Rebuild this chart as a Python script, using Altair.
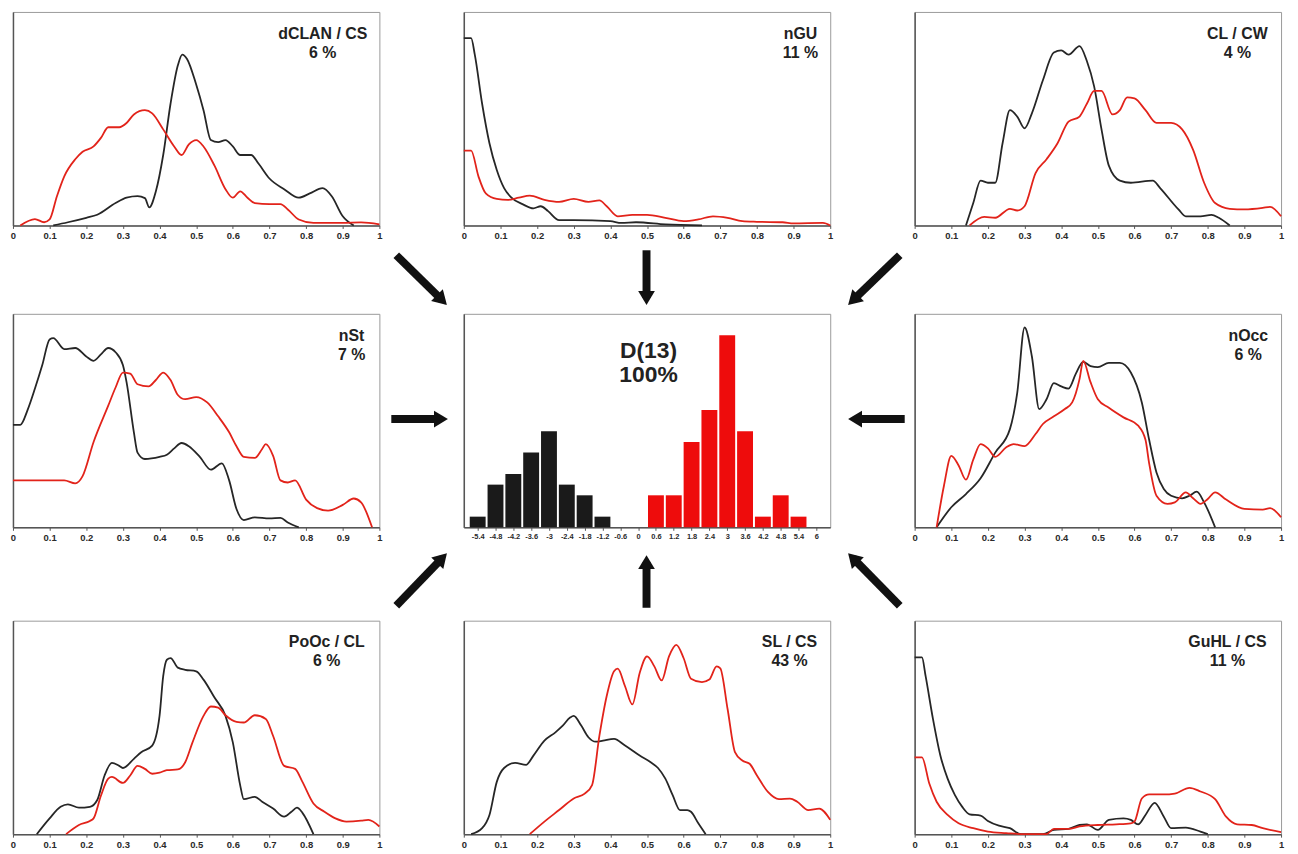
import math
import altair as alt
import pandas as pd

# ---------------- data ----------------
dclan_black = [(0.11,0),(0.15,0.015),(0.2,0.036),(0.23,0.05),(0.28,0.105),(0.31,0.13),(0.34,0.137),(0.36,0.128),
               (0.372,0.085),(0.39,0.16),(0.41,0.33),(0.43,0.57),(0.45,0.75),(0.462,0.80),(0.475,0.78),(0.5,0.66),
               (0.52,0.54),(0.54,0.40),(0.56,0.39),(0.58,0.40),(0.6,0.37),(0.62,0.33),(0.65,0.33),(0.67,0.29),
               (0.7,0.22),(0.74,0.17),(0.78,0.13),(0.81,0.15),(0.845,0.175),(0.87,0.137),(0.9,0.043),(0.93,0)]
dclan_red = [(0.02,0),(0.06,0.03),(0.085,0.015),(0.1,0.028),(0.12,0.137),(0.14,0.23),(0.17,0.31),(0.19,0.345),
             (0.22,0.37),(0.24,0.41),(0.26,0.46),(0.29,0.46),(0.31,0.48),(0.33,0.52),(0.36,0.54),(0.38,0.525),
             (0.41,0.45),(0.44,0.37),(0.46,0.33),(0.48,0.38),(0.5,0.40),(0.52,0.37),(0.55,0.28),(0.58,0.17),
             (0.6,0.13),(0.62,0.16),(0.64,0.13),(0.66,0.105),(0.7,0.10),(0.73,0.10),(0.75,0.075),(0.78,0.028),
             (0.82,0.012),(0.9,0.012),(0.95,0.014),(1.0,0.005)]

ngu_black = [(0,0.877),(0.02,0.877),(0.03,0.80),(0.05,0.57),(0.07,0.385),(0.09,0.26),(0.11,0.175),(0.13,0.13),
             (0.16,0.10),(0.19,0.08),(0.21,0.09),(0.23,0.067),(0.26,0.025),(0.3,0.025),(0.4,0.02),(0.43,0.012),
             (0.47,0.015),(0.55,0.005),(0.65,0)]
ngu_red = [(0,0.35),(0.02,0.35),(0.04,0.23),(0.06,0.15),(0.09,0.124),(0.12,0.12),(0.15,0.13),(0.18,0.14),
           (0.22,0.12),(0.26,0.11),(0.3,0.124),(0.34,0.11),(0.37,0.117),(0.39,0.09),(0.42,0.043),(0.46,0.05),
           (0.5,0.05),(0.55,0.036),(0.6,0.02),(0.64,0.028),(0.68,0.043),(0.72,0.036),(0.76,0.02),(0.8,0.017),
           (0.87,0.015),(0.9,0.01),(0.98,0.012),(1.0,0)]

clcw_black = [(0.14,0),(0.16,0.105),(0.18,0.21),(0.2,0.2),(0.22,0.2),(0.24,0.385),(0.26,0.54),(0.28,0.51),
              (0.3,0.455),(0.32,0.525),(0.35,0.68),(0.38,0.81),(0.4,0.82),(0.42,0.80),(0.45,0.84),(0.47,0.77),
              (0.49,0.65),(0.51,0.45),(0.53,0.28),(0.56,0.21),(0.59,0.2),(0.65,0.21),(0.67,0.175),(0.72,0.075),
              (0.74,0.043),(0.78,0.043),(0.81,0.05),(0.83,0.036),(0.86,0)]
clcw_red = [(0.15,0),(0.19,0.04),(0.22,0.036),(0.26,0.078),(0.28,0.07),(0.3,0.09),(0.33,0.245),(0.36,0.31),
            (0.39,0.385),(0.42,0.486),(0.45,0.51),(0.47,0.57),(0.49,0.63),(0.51,0.63),(0.54,0.52),(0.56,0.54),
            (0.58,0.60),(0.6,0.595),(0.63,0.54),(0.66,0.48),(0.7,0.48),(0.73,0.45),(0.76,0.354),(0.79,0.2),
            (0.82,0.105),(0.86,0.078),(0.9,0.075),(0.95,0.082),(0.97,0.087),(1.0,0.043)]

nst_black = [(0,0.48),(0.02,0.48),(0.04,0.55),(0.06,0.65),(0.08,0.76),(0.1,0.88),(0.11,0.886),(0.14,0.835),
             (0.17,0.84),(0.2,0.80),(0.22,0.78),(0.24,0.81),(0.26,0.84),(0.28,0.82),(0.3,0.76),(0.31,0.68),
             (0.33,0.445),(0.34,0.35),(0.36,0.32),(0.4,0.33),(0.42,0.34),(0.44,0.37),(0.46,0.395),(0.48,0.38),
             (0.51,0.33),(0.54,0.27),(0.57,0.30),(0.59,0.22),(0.61,0.086),(0.63,0.034),(0.66,0.047),(0.7,0.042),
             (0.73,0.044),(0.75,0.023),(0.78,0)]
nst_red = [(0,0.22),(0.14,0.22),(0.17,0.206),(0.19,0.24),(0.22,0.40),(0.26,0.57),(0.28,0.655),(0.3,0.725),
           (0.32,0.72),(0.34,0.67),(0.37,0.66),(0.39,0.69),(0.41,0.725),(0.43,0.69),(0.45,0.62),(0.47,0.60),
           (0.5,0.61),(0.53,0.585),(0.56,0.52),(0.59,0.445),(0.61,0.38),(0.63,0.33),(0.66,0.325),(0.68,0.367),
           (0.69,0.39),(0.71,0.335),(0.73,0.22),(0.75,0.21),(0.77,0.22),(0.8,0.13),(0.83,0.09),(0.86,0.078),
           (0.9,0.105),(0.93,0.135),(0.95,0.117),(0.98,0)]

nocc_black = [(0.06,0),(0.1,0.094),(0.14,0.156),(0.18,0.23),(0.22,0.35),(0.26,0.46),(0.28,0.63),(0.3,0.936),
              (0.32,0.80),(0.34,0.554),(0.36,0.60),(0.38,0.675),(0.4,0.66),(0.42,0.65),(0.44,0.72),(0.46,0.775),
              (0.48,0.755),(0.5,0.75),(0.53,0.77),(0.56,0.77),(0.59,0.725),(0.62,0.585),(0.64,0.41),(0.66,0.257),
              (0.68,0.18),(0.7,0.148),(0.73,0.136),(0.75,0.148),(0.77,0.167),(0.79,0.117),(0.82,0)]
nocc_red = [(0.06,0),(0.08,0.195),(0.1,0.335),(0.12,0.29),(0.14,0.223),(0.16,0.317),(0.18,0.39),(0.2,0.37),
            (0.22,0.33),(0.25,0.375),(0.27,0.39),(0.3,0.38),(0.33,0.437),(0.35,0.484),(0.38,0.52),(0.41,0.554),
            (0.43,0.585),(0.45,0.694),(0.46,0.78),(0.48,0.68),(0.5,0.60),(0.53,0.56),(0.57,0.515),(0.61,0.476),
            (0.63,0.41),(0.64,0.30),(0.66,0.148),(0.69,0.11),(0.71,0.117),(0.74,0.164),(0.76,0.136),(0.78,0.11),
            (0.8,0.133),(0.82,0.164),(0.85,0.13),(0.9,0.086),(0.95,0.083),(0.97,0.09),(1.0,0.047)]

pooc_black = [(0.065,0),(0.1,0.074),(0.13,0.128),(0.15,0.14),(0.18,0.124),(0.21,0.128),(0.23,0.16),(0.25,0.275),
              (0.27,0.334),(0.29,0.32),(0.3,0.31),(0.33,0.353),(0.35,0.384),(0.38,0.415),(0.4,0.554),(0.41,0.74),
              (0.42,0.817),(0.43,0.825),(0.45,0.78),(0.47,0.77),(0.5,0.763),(0.52,0.724),(0.55,0.64),(0.58,0.554),
              (0.6,0.43),(0.62,0.23),(0.63,0.164),(0.66,0.175),(0.68,0.152),(0.71,0.12),(0.74,0.082),(0.76,0.105),
              (0.775,0.124),(0.79,0.1),(0.82,0)]
pooc_red = [(0.145,0),(0.18,0.043),(0.21,0.062),(0.22,0.074),(0.24,0.18),(0.26,0.26),(0.27,0.268),(0.3,0.24),
            (0.32,0.275),(0.34,0.32),(0.36,0.306),(0.38,0.283),(0.4,0.288),(0.42,0.3),(0.45,0.303),(0.47,0.337),
            (0.49,0.43),(0.52,0.554),(0.54,0.598),(0.56,0.593),(0.58,0.557),(0.61,0.526),(0.63,0.523),(0.66,0.557),
            (0.69,0.54),(0.71,0.46),(0.74,0.32),(0.77,0.306),(0.79,0.245),(0.82,0.144),(0.85,0.105),(0.88,0.074),
            (0.91,0.059),(0.95,0.063),(0.97,0.067),(1.0,0.036)]

slcs_black = [(0.02,0),(0.05,0.028),(0.07,0.09),(0.09,0.245),(0.11,0.31),(0.14,0.334),(0.17,0.325),(0.19,0.368),
              (0.22,0.438),(0.25,0.477),(0.27,0.508),(0.29,0.546),(0.3,0.554),(0.32,0.51),(0.34,0.454),(0.36,0.433),
              (0.38,0.438),(0.41,0.446),(0.44,0.415),(0.48,0.368),(0.51,0.337),(0.53,0.31),(0.55,0.26),(0.57,0.183),
              (0.59,0.113),(0.61,0.113),(0.62,0.105),(0.64,0.051),(0.66,0)]
slcs_red = [(0.18,0),(0.22,0.059),(0.26,0.113),(0.3,0.167),(0.33,0.19),(0.35,0.23),(0.37,0.46),(0.39,0.647),
            (0.41,0.763),(0.42,0.775),(0.44,0.693),(0.46,0.608),(0.48,0.755),(0.5,0.833),(0.52,0.786),(0.54,0.72),
            (0.56,0.833),(0.58,0.887),(0.6,0.824),(0.62,0.728),(0.65,0.712),(0.67,0.724),(0.69,0.786),(0.7,0.777),
            (0.72,0.585),(0.74,0.384),(0.76,0.345),(0.78,0.33),(0.8,0.275),(0.83,0.198),(0.86,0.164),(0.89,0.167),
            (0.91,0.152),(0.94,0.113),(0.97,0.12),(1.0,0.067)]

guhl_black = [(0,0.828),(0.02,0.828),(0.03,0.74),(0.05,0.54),(0.07,0.37),(0.09,0.26),(0.11,0.183),(0.13,0.128),
              (0.15,0.093),(0.18,0.087),(0.2,0.062),(0.23,0.04),(0.26,0.028),(0.29,0),(0.35,0),(0.38,0.02),
              (0.42,0.025),(0.45,0.043),(0.47,0.046),(0.5,0.02),(0.53,0.067),(0.57,0.074),(0.59,0.067),(0.61,0.046),
              (0.63,0.09),(0.655,0.147),(0.68,0.082),(0.7,0.028),(0.74,0.031),(0.78,0.012),(0.8,0)]
guhl_red = [(0,0.36),(0.02,0.36),(0.04,0.237),(0.06,0.152),(0.09,0.09),(0.12,0.051),(0.16,0.028),(0.2,0.012),
            (0.25,0.005),(0.3,0),(0.36,0),(0.38,0.025),(0.42,0.025),(0.45,0.036),(0.5,0.043),(0.55,0.046),
            (0.59,0.051),(0.6,0.059),(0.62,0.167),(0.64,0.186),(0.68,0.186),(0.71,0.19),(0.75,0.217),(0.78,0.2),
            (0.82,0.164),(0.85,0.082),(0.88,0.046),(0.92,0.043),(0.95,0.028),(1.0,0.01)]

hist_black_bins = [-5.4, -4.8, -4.2, -3.6, -3.0, -2.4, -1.8, -1.2]
hist_black_counts = [1, 4, 5, 7, 9, 4, 3, 1]
hist_red_bins = [0.6, 1.2, 1.8, 2.4, 3.0, 3.6, 4.2, 4.8, 5.4]
hist_red_counts = [3, 3, 8, 11, 18, 9, 1, 3, 1]
hist_ticks = [-5.4, -4.8, -4.2, -3.6, -3, -2.4, -1.8, -1.2, -0.6, 0, 0.6, 1.2, 1.8, 2.4, 3, 3.6, 4.2, 4.8, 5.4, 6]
curve_ticks = [0, 0.1, 0.2, 0.3, 0.4, 0.5, 0.6, 0.7, 0.8, 0.9, 1]

# ---------------- layout / style ----------------
PW, PH = 369, 215
GAP = 85
S1H, S2H = 89, 94
BLACK = "#262626"
RED = "#e2231a"
FONT = "Liberation Sans"


def title_layer(lines, cx, top, size, lh):
    return alt.Chart(pd.DataFrame({"t": [0]})).mark_text(
        text=lines, align="center", baseline="top", font=FONT, fontSize=size,
        fontWeight="bold", color="#222", lineHeight=lh
    ).encode(x=alt.value(cx), y=alt.value(top))


def curve_panel(black, red, lines, cx):
    xenc = alt.X("x:Q", scale=alt.Scale(domain=[0, 1], nice=False, zero=False),
                 axis=alt.Axis(values=curve_ticks, format=".1~f", title=None))
    yenc = alt.Y("y:Q", scale=alt.Scale(domain=[0, 1], nice=False),
                 axis=alt.Axis(title=None, labels=False, ticks=False))
    lb = alt.Chart(pd.DataFrame(black, columns=["x", "y"])).mark_line(
        color=BLACK, strokeWidth=1.8, interpolate="monotone").encode(x=xenc, y=yenc)
    lr = alt.Chart(pd.DataFrame(red, columns=["x", "y"])).mark_line(
        color=RED, strokeWidth=1.8, interpolate="monotone").encode(x=xenc, y=yenc)
    return alt.layer(lb, lr, title_layer(lines, cx, 14, 16, 19)).properties(width=PW, height=PH)


def hist_panel():
    xs = alt.Scale(domain=[-5.7, 6.3], nice=False, zero=False)
    ys = alt.Scale(domain=[0, 20], nice=False)
    xax = alt.Axis(values=hist_ticks, labelExpr="'' + datum.value", title=None,
                   labelFontSize=7.5, labelOverlap=False)
    yax = alt.Axis(title=None, labels=False, ticks=False)
    hb = alt.Chart(pd.DataFrame({"b": hist_black_bins, "n": hist_black_counts})).mark_bar(
        color="#1a1a1a", size=16).encode(x=alt.X("b:Q", scale=xs, axis=xax), y=alt.Y("n:Q", scale=ys, axis=yax))
    hr = alt.Chart(pd.DataFrame({"b": hist_red_bins, "n": hist_red_counts})).mark_bar(
        color="#ee0c0c", size=16).encode(x=alt.X("b:Q", scale=xs, axis=xax), y=alt.Y("n:Q", scale=ys, axis=yax))
    return alt.layer(hb, hr, title_layer(["D(13)", "100%"], 186, 26, 23, 25)).properties(width=PW, height=PH)


HEAD_HALF = 7
HEAD_PATH = "M0,-1L1.2,1L-1.2,1Z"


def arrow_cell(arrows, w, h):
    """A blank cell of the layout grid, optionally carrying arrows (tail x, tail y, tip x, tip y)."""
    rows = []
    for (x0, y0, x1, y1) in arrows:
        dx, dy = x1 - x0, y1 - y0
        L = math.hypot(dx, dy)
        ux, uy = dx / L, dy / L
        cx, cy = x1 - HEAD_HALF * ux, y1 - HEAD_HALF * uy
        ang = (math.degrees(math.atan2(dy, dx)) + 90) % 360
        rows.append({"x": x0, "y": y0, "x2": cx, "y2": cy, "hx": cx, "hy": cy, "a": ang, "o": 1})
    if not rows:
        # invisible placeholder in the middle of the cell
        rows.append({"x": w / 2, "y": h / 2, "x2": w / 2, "y2": h / 2, "hx": w / 2, "hy": h / 2, "a": 0, "o": 0})
    df = pd.DataFrame(rows)
    xs = alt.Scale(domain=[0, w], nice=False, zero=False)
    ys = alt.Scale(domain=[0, h], nice=False, zero=False, reverse=True)
    shaft = alt.Chart(df).mark_rule(color="#111", strokeWidth=8, strokeCap="butt").encode(
        x=alt.X("x:Q", scale=xs, axis=None), y=alt.Y("y:Q", scale=ys, axis=None), x2="x2:Q", y2="y2:Q",
        opacity=alt.Opacity("o:Q", scale=None))
    head = alt.Chart(df).mark_point(shape=HEAD_PATH, filled=True, size=196,
                                    color="#111", strokeWidth=0).encode(
        x=alt.X("hx:Q", scale=xs, axis=None), y=alt.Y("hy:Q", scale=ys, axis=None),
        angle=alt.Angle("a:Q", scale=None), opacity=alt.Opacity("o:Q", scale=None))
    return alt.layer(shaft, head).properties(width=w, height=h, view=alt.ViewBackground(strokeOpacity=0))


cells = [
    # row 1
    curve_panel(dclan_black, dclan_red, ["dCLAN / CS", "6 %"], 312),
    arrow_cell([], GAP, PH),
    curve_panel(ngu_black, ngu_red, ["nGU", "11 %"], 339),
    arrow_cell([], GAP, PH),
    curve_panel(clcw_black, clcw_red, ["CL / CW", "4 %"], 325),
    # arrows between row 1 and row 2
    arrow_cell([], PW, S1H),
    arrow_cell([(17, 30, 68, 80)], GAP, S1H),
    arrow_cell([(184, 25, 184, 80)], PW, S1H),
    arrow_cell([(70, 30, 18, 80)], GAP, S1H),
    arrow_cell([], PW, S1H),
    # row 2
    curve_panel(nst_black, nst_red, ["nSt", "7 %"], 341),
    arrow_cell([(12, 106, 69, 106)], GAP, PH),
    hist_panel(),
    arrow_cell([(75, 106, 18, 106)], GAP, PH),
    curve_panel(nocc_black, nocc_red, ["nOcc", "6 %"], 336),
    # arrows between row 2 and row 3
    arrow_cell([], PW, S2H),
    arrow_cell([(17, 79, 68, 26)], GAP, S2H),
    arrow_cell([(184, 81, 184, 28)], PW, S2H),
    arrow_cell([(70, 79, 18, 26)], GAP, S2H),
    arrow_cell([], PW, S2H),
    # row 3
    curve_panel(pooc_black, pooc_red, ["PoOc / CL", "6 %"], 316),
    arrow_cell([], GAP, PH),
    curve_panel(slcs_black, slcs_red, ["SL / CS", "43 %"], 328),
    arrow_cell([], GAP, PH),
    curve_panel(guhl_black, guhl_red, ["GuHL / CS", "11 %"], 315),
]

chart = alt.concat(*cells, columns=5, spacing=0, bounds="flush").properties(
    padding={"left": 0, "top": 0, "right": 4, "bottom": 4}, background="white"
).configure_view(
    stroke="#9a9a9a", strokeWidth=1
).configure_axis(
    domainColor="#555", domainWidth=1.5, tickColor="#555", labelColor="#2a2a2a",
    labelFont=FONT, grid=False
).configure_axisX(
    tickSize=3, labelPadding=2, labelFontWeight="bold", labelFontSize=9.5,
    labelFlush=False, labelOverlap=False
)

chart.save("out.html", embed_options={"renderer": "svg", "actions": False})
